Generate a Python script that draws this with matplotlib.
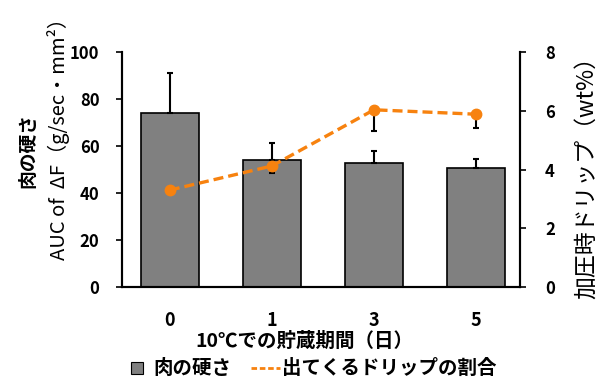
import matplotlib.pyplot as plt
from matplotlib.lines import Line2D

plt.rcParams['font.family'] = ['Noto Sans CJK JP', 'DejaVu Sans']

# データ
days = ['0', '1', '3', '5']
hardness = [73.9, 54.0, 52.6, 50.5]
hardness_err = [17.3, 7.1, 5.3, 3.8]
drip = [3.30, 4.12, 6.03, 5.88]
drip_err = [0.0, 0.23, 0.72, 0.48]

gray = '#808080'
orange = '#f7820f'

fig = plt.figure(figsize=(6.06, 3.87), dpi=100)
ax = fig.add_axes([0.201, 0.258, 0.657, 0.608])
x = list(range(len(days)))

ax.bar(x, hardness, width=0.57, color=gray, edgecolor='black', linewidth=1.2, zorder=2)
ax.errorbar(x, hardness, yerr=[[0] * 4, hardness_err], fmt='none', ecolor='black',
            elinewidth=1.5, capsize=2.5, capthick=1.5, zorder=3)
ax.set_ylim(0, 100)
ax.set_yticks([0, 20, 40, 60, 80, 100])
ax.set_xlim(-0.47, 3.43)
ax.set_xticks(x)
ax.set_xticklabels(days, fontweight='bold', fontsize=13)
ax.tick_params(axis='x', length=0, pad=17)
ax.tick_params(axis='y', direction='out', length=4, width=1.2, labelsize=12, pad=12)
for lab in ax.get_yticklabels():
    lab.set_fontweight('bold')
ax.spines['top'].set_visible(False)
for s in ['left', 'bottom', 'right']:
    ax.spines[s].set_linewidth(1.5)

ax2 = ax.twinx()
ax2.errorbar(x, drip, yerr=[drip_err, [0] * 4], fmt='none', ecolor='black',
             elinewidth=1.5, capsize=2.5, capthick=1.5, zorder=3)
ax2.plot(x, drip, color=orange, linestyle='--', linewidth=2.4, dashes=(3, 1.5),
         marker='o', markersize=7.5, zorder=4)
ax2.set_ylim(0, 8)
ax2.set_yticks([0, 2, 4, 6, 8])
ax2.tick_params(axis='y', direction='out', length=4, width=1.2, labelsize=12, pad=14)
for lab in ax2.get_yticklabels():
    lab.set_fontweight('bold')
ax2.spines['top'].set_visible(False)
for s in ['left', 'bottom', 'right']:
    ax2.spines[s].set_linewidth(1.5)

fig.text(0.046, 0.612, '肉の硬さ', rotation=90, ha='center', va='center',
         fontsize=13.5, fontweight='bold')
fig.text(0.097, 0.655, 'AUC of  ΔF（g/sec・mm²）', rotation=90, ha='center', va='center',
         fontsize=14.5)
fig.text(0.969, 0.556, '加圧時ドリップ（wt%）', rotation=90, ha='center', va='center',
         fontsize=16.5)
fig.text(0.503, 0.119, '10℃での貯蔵期間（日）', ha='center', va='center',
         fontsize=14, fontweight='bold')

handles = [
    Line2D([], [], linestyle='none', marker='s', markersize=9,
           markerfacecolor=gray, markeredgecolor='black', markeredgewidth=0.8),
    Line2D([], [], color=orange, linestyle='--', linewidth=2, dashes=(2, 1)),
]
fig.legend(handles, ['肉の硬さ', '出てくるドリップの割合'], loc='center',
           bbox_to_anchor=(0.51, 0.047), ncol=2, frameon=False,
           prop={'weight': 'bold', 'size': 14}, handlelength=1.5,
           handletextpad=0.1, columnspacing=1.0)

fig.savefig('out.png', dpi=100)
